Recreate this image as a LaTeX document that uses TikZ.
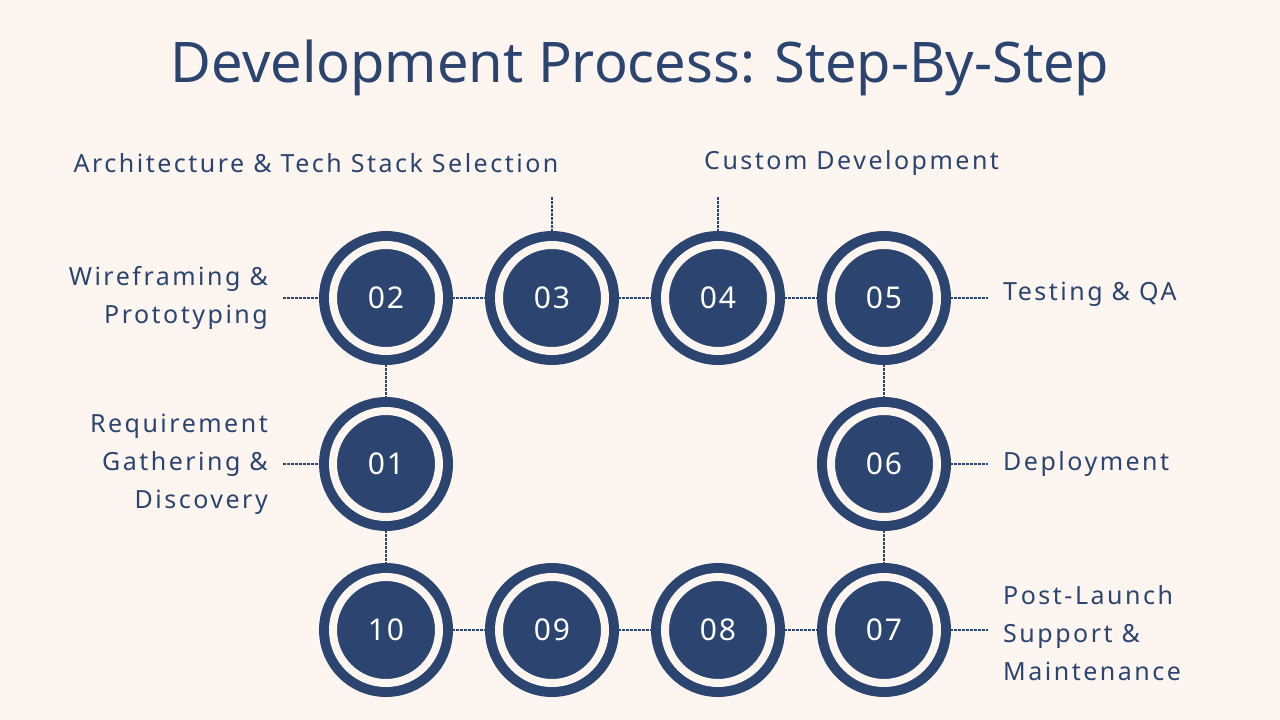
\documentclass[tikz,border=0pt]{standalone}
\usepackage{fontspec}
\setmainfont{Noto Sans}
\newfontfamily\lblfont[LetterSpace=10]{Noto Sans}
\newfontfamily\numfont[LetterSpace=6]{Noto Sans}
\definecolor{navy}{HTML}{2B4470}
\definecolor{bg}{HTML}{FDF5F0}
\begin{document}
\begin{tikzpicture}[x=1pt,y=-1pt,
  circ/.style={circle,fill=navy,draw=navy,line width=10pt,double=bg,double distance=8pt,minimum size=106pt,inner sep=0pt,text=white,font=\numfont\fontsize{30}{30}\bfseries},
  dots/.style={navy,line width=2.5pt,dash pattern=on 2.5pt off 1.5pt},
  lbl/.style={text=navy,font=\lblfont\fontsize{25}{38}\selectfont\bfseries,inner sep=0pt}]
\fill[bg] (0,0) rectangle (1280,720);
\useasboundingbox (0,0) rectangle (1280,720);
\node[text=navy,font=\fontsize{56}{60}\selectfont\bfseries] (title) at (640,68) {Development Process: Step-By-Step};
\foreach \n/\x/\y in {02/386/298,03/552/298,04/718/298,05/884/298,01/386/464,06/884/464,10/386/630,09/552/630,08/718/630,07/884/630}
  \node[circ] (c\n) at (\x,\y) {\n};
\coordinate (l02) at (283,298); \coordinate (l01) at (283,464);
\coordinate (t03) at (552,197); \coordinate (t04) at (718,197);
\coordinate (r05) at (988,298); \coordinate (r06) at (988,464); \coordinate (r07) at (988,630);
\draw[dots] (l02)--(c02.west); \draw[dots] (l01)--(c01.west);
\draw[dots] (t03)--(c03.north); \draw[dots] (t04)--(c04.north);
\draw[dots] (c05.east)--(r05); \draw[dots] (c06.east)--(r06); \draw[dots] (c07.east)--(r07);
\draw[dots] (c02)--(c03); \draw[dots] (c03)--(c04); \draw[dots] (c04)--(c05);
\draw[dots] (c10)--(c09); \draw[dots] (c09)--(c08); \draw[dots] (c08)--(c07);
\draw[dots] (c02)--(c01); \draw[dots] (c01)--(c10);
\draw[dots] (c05)--(c06); \draw[dots] (c06)--(c07);
\node[lbl,anchor=east,align=right] (L02) at (268,298) {Wireframing \&\\Prototyping};
\node[lbl,anchor=east,align=right] (L01) at (268,464) {Requirement\\Gathering \&\\Discovery};
\node[lbl] (L03) at (316,163) {Architecture \& Tech Stack Selection};
\node[lbl,anchor=west] (L04) at (704,163) {Custom Development};
\node[lbl,anchor=west] (L05) at (1003,294) {Testing \& QA};
\node[lbl,anchor=west] (L06) at (1003,464) {Deployment};
\node[lbl,anchor=west,align=left] (L07) at (1003,633) {Post-Launch\\Support \&\\Maintenance};
\end{tikzpicture}
\end{document}
